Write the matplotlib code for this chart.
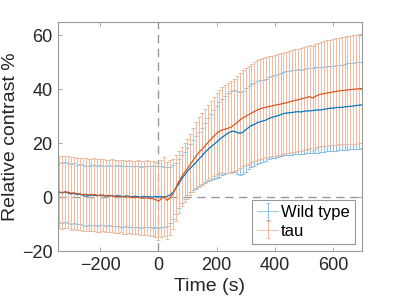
import numpy as np
import matplotlib.pyplot as plt

plt.rcParams["font.family"] = ["Liberation Sans", "DejaVu Sans"]

# time axis (s), one sample every 10 s
time = np.arange(-340, 701, 10)

wt_mean = [
    1.8, 1.6, 1.9, 1.5, 1.2, 1.4, 1.0, 1.1, 0.8, 0.3, 0.6, 0.9, 0.7, 0.5, 0.8, 0.6, 0.4, 0.7,
    0.5, 0.3, 0.6, 0.4, 0.2, 0.5, 0.3, 0.1, 0.4, 0.2, 0.0, 0.3, 0.1, 0.2, 0.0, 0.3, 0.1,
    0.2, 0.0, 0.3, 0.8, 1.8, 3.2, 5.0, 6.8, 8.2, 9.6,
    10.8, 11.8, 13.0, 14.2, 15.3, 16.6, 17.6, 18.6, 19.5, 20.4,
    21.4, 22.3, 23.0, 23.8, 24.3, 24.5, 24.0, 23.7, 24.0, 25.0,
    25.8, 26.6, 27.0, 27.6, 28.0, 28.3, 28.6, 29.2, 29.6, 29.9,
    30.2, 30.6, 31.0, 31.2, 31.3, 31.4, 31.6, 31.7, 31.6, 31.8,
    32.0, 32.0, 32.1, 32.3, 32.3, 32.4, 32.6, 32.8, 33.0, 33.0,
    33.2, 33.3, 33.3, 33.5, 33.6, 33.7, 33.8, 34.0, 34.1, 34.2,
]
wt_sd = [
    11.1, 11.1, 11.0, 11.1, 11.2, 11.1, 11.0, 11.1, 11.2, 11.1, 11.0, 11.1, 11.2, 11.2, 11.1,
    11.0, 11.1, 11.2, 11.2, 11.1, 11.2, 11.3, 11.2, 11.1, 11.2, 11.3, 11.3, 11.2, 11.3, 11.4,
    11.3, 11.4, 11.4, 11.3, 11.4,
    11.3, 11.2, 11.0, 10.5, 10.0, 9.5, 9.0, 8.8, 8.7, 8.8,
    9.0, 9.3, 9.7, 10.1, 10.5, 11.0, 11.6, 12.2, 12.8, 13.3,
    13.8, 14.1, 14.4, 14.7, 15.0, 15.2, 15.3, 15.3, 15.4, 15.5,
    15.5, 15.5, 15.4, 15.4, 15.3, 15.3, 15.2, 15.2, 15.2, 15.3,
    15.3, 15.4, 15.4, 15.5, 15.5, 15.6, 15.6, 15.7, 15.7, 15.8,
    15.8, 15.8, 15.8, 15.8, 15.8, 15.8, 15.8, 15.8, 15.8, 15.8,
    15.9, 15.9, 15.9, 16.0, 16.0, 16.0, 16.0, 16.1, 16.1, 16.1,
]

tau_mean = [
    1.9, 1.7, 2.0, 1.8, 1.5, 1.6, 1.3, 1.2, 1.0, 1.1, 0.9, 0.8, 1.0, 0.7, 0.6, 0.8, 0.5, 0.4,
    0.6, 0.3, 0.2, 0.4, 0.1, 0.0, 0.2, -0.1, -0.2, 0.0, -0.3, -0.4, -0.2, -0.5, -0.6, -0.8, -1.5,
    -0.6, 0.3, -1.2, -0.2, 1.2, 3.5, 5.8, 7.6, 9.2, 10.6,
    12.2, 13.8, 15.3, 16.7, 17.8, 19.0, 20.2, 21.4, 22.6, 23.6,
    24.4, 25.0, 25.2, 25.6, 26.0, 26.8, 27.6, 28.6, 29.4, 30.0,
    30.6, 31.2, 31.8, 32.3, 32.8, 33.1, 33.4, 33.6, 33.8, 34.1,
    34.3, 34.5, 34.8, 35.0, 35.3, 35.6, 35.9, 36.1, 36.4, 36.7,
    37.0, 37.3, 36.8, 37.4, 37.9, 38.2, 38.4, 38.6, 38.8, 39.0,
    39.2, 39.4, 39.5, 39.6, 39.8, 39.9, 40.0, 40.1, 40.2, 40.3,
]
tau_sd = [
    13.4, 13.4, 13.3, 13.4, 13.5, 13.4, 13.3, 13.4, 13.4, 13.5, 13.4, 13.3, 13.4, 13.5, 13.4,
    13.4, 13.3, 13.4, 13.5, 13.5, 13.4, 13.5, 13.6, 13.5, 13.6, 13.6, 13.5, 13.6, 13.7, 13.7,
    13.8, 13.8, 13.9, 14.0, 14.2,
    14.3, 14.6, 14.4, 13.8, 13.0, 12.2, 11.5, 11.0, 10.9, 11.1,
    11.4, 11.8, 12.4, 12.9, 13.4, 13.7, 14.0, 14.3, 14.6, 15.0,
    15.5, 16.0, 16.4, 16.8, 17.0, 17.2, 17.4, 17.6, 17.8, 18.0,
    18.2, 18.3, 18.4, 18.5, 18.6, 18.6, 18.6, 18.7, 18.7, 18.7,
    18.7, 18.8, 18.8, 18.8, 18.9, 18.9, 19.0, 19.0, 19.1, 19.1,
    19.1, 19.2, 19.2, 19.3, 19.4, 19.4, 19.5, 19.6, 19.6, 19.7,
    19.7, 19.8, 19.9, 19.9, 20.0, 20.0, 20.1, 20.2, 20.2, 20.3,
]

blue = "#0072BD"
orange = "#D95319"
blue_light = "#8CBFE1"
orange_light = "#EBBBA0"

fig = plt.figure(figsize=(4, 3), dpi=100)
ax = fig.add_axes([0.145, 0.163, 0.76, 0.764])

ax.axvline(0, color="#999999", ls=(0, (6, 4)), lw=1, zorder=0)
ax.axhline(0, color="#999999", ls=(0, (6, 4)), lw=1, zorder=0)

h_wt = ax.errorbar(time, wt_mean, yerr=wt_sd, color=blue_light, lw=0.6,
                   elinewidth=0.7, capsize=1.3, capthick=0.7, label="Wild type")
h_tau = ax.errorbar(time, tau_mean, yerr=tau_sd, color=orange_light, lw=0.6,
                    elinewidth=0.7, capsize=1.3, capthick=0.7, label="tau")
ax.plot(time, wt_mean, color=blue, lw=0.8, zorder=3)
ax.plot(time, tau_mean, color=orange, lw=0.8, zorder=3)

ax.set_xlim(-345, 700)
ax.set_ylim(-20, 65)
ax.set_xticks([-200, 0, 200, 400, 600])
ax.set_yticks([-20, 0, 20, 40, 60])
ax.tick_params(direction="in", top=True, right=True, length=3, width=0.6,
               color="#999999", labelsize=13, labelcolor="#262626", pad=4)
for s in ax.spines.values():
    s.set_color("#999999")
    s.set_linewidth(0.8)

ax.set_xlabel("Time (s)", fontsize=14, color="#262626", labelpad=3)
ax.set_ylabel("Relative contrast %", fontsize=14, color="#262626", labelpad=2)

leg = ax.legend(handles=[h_wt, h_tau], loc="lower right", fontsize=12, fancybox=False,
                edgecolor="#999999", framealpha=1, borderaxespad=0.45,
                handlelength=1.25, handletextpad=0.15, borderpad=0.3, labelspacing=0.2)
leg.get_frame().set_linewidth(0.8)

fig.savefig("out.png", dpi=100)
